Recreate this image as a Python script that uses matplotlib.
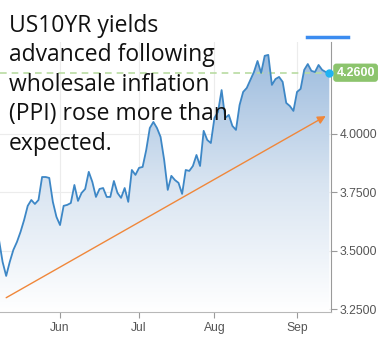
#!/usr/bin/env python3
"""US10YR yield chart (May-Sep 2023) with PPI annotation."""

import matplotlib
matplotlib.use("Agg")
import matplotlib.pyplot as plt
import numpy as np
import pandas as pd
from matplotlib.patches import Polygon

# ---- data ----
start_date = "2023-05-09"
end_date = "2023-09-14"
yields = [
    # May
    3.547, 3.453, 3.393, 3.453, 3.504, 3.538, 3.581, 3.632, 3.692, 3.717,
    3.700, 3.717, 3.815, 3.815, 3.811, 3.709, 3.645,
    # Jun
    3.610, 3.692, 3.696, 3.704, 3.781, 3.713, 3.747, 3.764, 3.837, 3.794,
    3.730, 3.764, 3.768, 3.730, 3.730, 3.798, 3.747, 3.726, 3.768, 3.709,
    3.845, 3.824,
    # Jul
    3.854, 3.858, 3.930, 4.024, 4.050, 4.024, 3.986, 3.888, 3.760, 3.820,
    3.802, 3.790, 3.743, 3.845, 3.841, 3.862, 3.909, 3.862, 4.012, 3.973,
    3.960,
    # Aug
    4.067, 4.093, 4.186, 4.067, 4.080, 4.033, 4.016, 4.122, 4.178, 4.195,
    4.229, 4.263, 4.310, 4.259, 4.332, 4.336, 4.208, 4.233, 4.242, 4.221,
    4.131, 4.118, 4.097,
    # Sep
    4.178, 4.191, 4.272, 4.297, 4.268, 4.263, 4.293, 4.272, 4.263, 4.260,
]
last_value = 4.26
y_ticks = [3.25, 3.50, 3.75, 4.00]
month_labels = ["Jun", "Jul", "Aug", "Sep"]
month_starts = ["2023-06-01", "2023-07-03", "2023-08-01", "2023-09-01"]
trend_start = ("2023-05-11", 3.30)
trend_end = ("2023-09-13", 4.075)
headline = "US10YR yields\nadvanced following\nwholesale inflation\n(PPI) rose more than\nexpected."

dates = pd.bdate_range(start_date, end_date)
x = np.arange(len(dates))
y = np.array(yields)
pos = {d.strftime("%Y-%m-%d"): i for i, d in enumerate(dates)}

fig = plt.figure(figsize=(3.83, 3.39), dpi=100)
ax = fig.add_axes([0.0, 0.0796, 0.8655, 0.7965])
ax.set_xlim(0.28, 92.6)
ax.set_ylim(3.239, 4.391)

# grid
for t in y_ticks:
    ax.axhline(t, color="#ececec", lw=0.8, zorder=0)
for m in month_starts:
    ax.axvline(pos[m], color="#ececec", lw=0.8, zorder=0)

# gradient fill under the line
grad = np.linspace(0, 1, 256).reshape(-1, 1)
cmap = matplotlib.colors.LinearSegmentedColormap.from_list(
    "fillgrad", ["#ffffff", "#d8e4f1", "#9dbcde"])
img = ax.imshow(grad, cmap=cmap, aspect="auto", origin="lower",
                extent=[x[0], x[-1], 3.239, 4.34], zorder=1)
poly = Polygon(np.column_stack([np.r_[x[0], x, x[-1]],
                                np.r_[3.0, y, 3.0]]),
               closed=True, transform=ax.transData, facecolor="none", edgecolor="none")
ax.add_patch(poly)
img.set_clip_path(poly)

ax.plot(x, y, color="#3d87c6", lw=1.3, zorder=3)

# last-value dashed line + dot
ax.axhline(last_value, color="#b9dca2", lw=1.2, ls=(0, (4, 3)), zorder=2)

# trend arrow
ax.annotate("", xy=(pos[trend_end[0]], trend_end[1]),
            xytext=(pos[trend_start[0]], trend_start[1]),
            arrowprops=dict(arrowstyle="-|>", color="#f0873a", lw=1.0,
                            mutation_scale=12, shrinkA=0, shrinkB=0),
            zorder=4)

# axes styling
for s in ["top", "left"]:
    ax.spines[s].set_visible(False)
ax.spines["right"].set_color("#9a9a9a")
ax.spines["bottom"].set_color("#b8b8b8")
ax.yaxis.tick_right()
ax.set_yticks(y_ticks)
ax.set_yticklabels([f"{t:.4f}" for t in y_ticks])
ax.set_xticks([pos[m] for m in month_starts])
ax.set_xticklabels(month_labels)
ax.tick_params(axis="both", colors="#9a9a9a", labelcolor="#555555",
               length=4, width=0.8, labelsize=8.7)
ax.tick_params(axis="y", pad=2)
for lab in ax.get_xticklabels() + ax.get_yticklabels():
    lab.set_fontfamily("Liberation Sans")

# last value tag
ax.annotate(f"{last_value:.4f}", xy=(1.0, last_value),
            xycoords=("axes fraction", "data"), xytext=(3.5, 0),
            textcoords="offset points", va="center", ha="left",
            fontsize=9, color="white", fontweight="bold", family="Liberation Sans",
            bbox=dict(boxstyle="round,pad=0.25", fc="#8cc46d", ec="none"),
            annotation_clip=False, zorder=6)
ax.plot(x[-1], y[-1], "o", color="#1fb3f2", ms=5, zorder=7, clip_on=False)

# blue bar above the plot
fig.add_artist(plt.Line2D([307 / 383, 348 / 383], [1 - 37 / 339, 1 - 37 / 339],
                          color="#3b8cf0", lw=2.5, transform=fig.transFigure))

# headline text
fig.text(9 / 383, 1 - 14 / 339, headline, ha="left", va="top",
         fontsize=16.5, family="Open Sans", color="#111111", linespacing=1.3)

fig.savefig("out.png", dpi=100)
